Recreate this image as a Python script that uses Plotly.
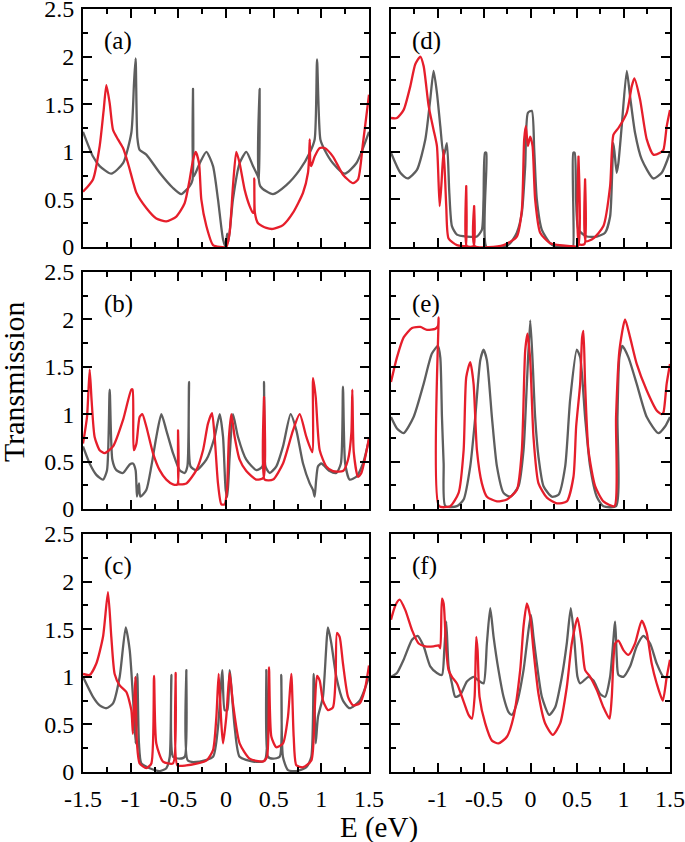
import plotly.graph_objects as go

# ---------------- data ----------------
a_gray_E = [-1.5,-1.395,-1.325,-1.203,-1.08,-0.993,-0.965,-0.948,-0.93,-0.906,-0.836,-0.696,-0.556,-0.469,-0.381,-0.352,-0.346,-0.34,-0.276,-0.206,-0.136,-0.084,-0.031,-0.003,0.012,0.025,0.073,0.143,0.213,0.283,0.336,0.347,0.353,0.359,0.493,0.633,0.773,0.878,0.93,0.955,0.99,1.035,1.122,1.245,1.367,1.5]
a_gray_T = [1.21,0.95,0.85,0.77,0.88,1.2,1.72,1.98,1.15,1.02,0.97,0.78,0.62,0.556,0.64,0.7,1.66,0.74,0.88,1.0,0.85,0.5,0.08,0.0,0.14,0.05,0.5,0.88,1.0,0.85,0.74,0.7,1.66,0.64,0.556,0.65,0.81,0.99,1.13,1.97,1.13,1.02,0.88,0.77,0.88,1.21]
a_red_E = [-1.5,-1.395,-1.325,-1.283,-1.255,-1.22,-1.185,-1.133,-1.08,-1.028,-0.976,-0.94,-0.836,-0.731,-0.626,-0.521,-0.434,-0.381,-0.345,-0.318,-0.283,-0.259,-0.206,-0.136,-0.066,0.003,0.038,0.073,0.108,0.143,0.196,0.248,0.283,0.292,0.297,0.303,0.336,0.423,0.493,0.598,0.703,0.808,0.86,0.872,0.878,0.885,0.895,0.93,0.983,1.035,1.122,1.227,1.332,1.385,1.437,1.5]
a_red_T = [0.58,0.71,1.06,1.44,1.70,1.51,1.23,1.13,1.04,0.88,0.69,0.57,0.41,0.30,0.27,0.32,0.46,0.71,0.92,1.0,0.88,0.50,0.22,0.02,0.0,0.0,0.15,0.64,1.0,0.88,0.60,0.43,0.36,0.36,0.72,0.36,0.25,0.20,0.19,0.23,0.36,0.57,0.78,0.95,1.13,0.88,0.85,0.95,1.04,1.04,0.95,0.76,0.67,0.71,1.09,1.6]

b_gray_E = [-1.5,-1.43,-1.36,-1.29,-1.248,-1.22,-1.192,-1.15,-1.08,-1.01,-0.976,-0.948,-0.934,-0.913,-0.899,-0.836,-0.783,-0.731,-0.678,-0.626,-0.556,-0.486,-0.434,-0.405,-0.388,-0.372,-0.311,-0.206,-0.119,-0.066,-0.031,-0.003,0.014,0.038,0.073,0.126,0.213,0.318,0.383,0.399,0.414,0.458,0.528,0.598,0.678,0.738,0.808,0.878,0.913,0.93,0.945,0.965,1.0,1.087,1.157,1.205,1.227,1.25,1.297,1.367,1.437,1.5]
b_gray_T = [0.66,0.48,0.36,0.31,0.41,1.26,0.52,0.41,0.38,0.47,0.48,0.41,0.13,0.27,0.13,0.20,0.45,0.76,1.0,0.83,0.59,0.41,0.38,0.45,1.34,0.45,0.41,0.52,0.76,1.0,0.76,0.2,0.13,0.55,1.0,0.76,0.52,0.41,0.45,1.34,0.45,0.38,0.45,0.66,1.0,0.83,0.48,0.27,0.2,0.13,0.3,0.45,0.48,0.40,0.38,0.48,1.29,0.48,0.31,0.34,0.48,0.73]
b_red_E = [-1.5,-1.458,-1.43,-1.41,-1.378,-1.325,-1.273,-1.185,-1.08,-0.993,-0.98,-0.968,-0.94,-0.906,-0.878,-0.836,-0.766,-0.696,-0.626,-0.556,-0.51,-0.503,-0.496,-0.486,-0.416,-0.311,-0.241,-0.189,-0.147,-0.119,-0.084,-0.049,-0.014,0.01,0.031,0.056,0.091,0.143,0.213,0.318,0.392,0.399,0.406,0.493,0.598,0.703,0.773,0.843,0.905,0.913,0.941,0.983,1.052,1.122,1.227,1.28,1.315,1.325,1.34,1.385,1.42,1.5]
b_red_T = [0.69,0.97,1.47,1.15,0.76,0.62,0.59,0.66,0.94,1.26,1.26,0.62,0.69,0.97,1.0,0.87,0.59,0.41,0.31,0.26,0.26,0.83,0.26,0.26,0.27,0.41,0.62,0.9,1.01,0.76,0.27,0.05,0.05,0.2,0.76,1.0,0.76,0.52,0.40,0.31,0.33,1.18,0.31,0.31,0.48,0.83,1.0,0.76,0.6,1.38,1.18,0.62,0.45,0.40,0.40,0.52,0.8,1.26,0.6,0.34,0.38,0.75]

c_gray_E = [-1.5,-1.395,-1.325,-1.255,-1.185,-1.115,-1.052,-1.01,-0.976,-0.948,-0.93,-0.913,-0.888,-0.8,-0.696,-0.626,-0.59,-0.573,-0.556,-0.486,-0.433,-0.416,-0.4,-0.276,-0.136,-0.084,-0.038,-0.014,0.014,0.038,0.091,0.143,0.283,0.406,0.423,0.44,0.493,0.563,0.58,0.597,0.65,0.738,0.843,0.895,0.92,0.941,0.965,1.017,1.07,1.105,1.157,1.227,1.297,1.402,1.5]
c_gray_T = [1.0,0.79,0.70,0.67,0.72,1.0,1.52,1.28,0.79,0.30,1.03,0.30,0.09,0.04,0.01,0.04,0.16,1.02,0.16,0.14,0.16,1.07,0.12,0.11,0.16,0.47,1.07,0.65,0.65,1.07,0.47,0.16,0.11,0.12,1.07,0.16,0.14,0.16,1.02,0.16,0.02,0.01,0.05,0.16,1.03,0.30,0.58,0.79,1.52,1.35,1.0,0.75,0.67,0.75,1.0]
c_red_E = [-1.5,-1.43,-1.36,-1.29,-1.238,-1.203,-1.168,-1.115,-1.045,-0.993,-0.976,-0.951,-0.934,-0.906,-0.836,-0.783,-0.755,-0.731,-0.661,-0.556,-0.528,-0.51,-0.416,-0.206,-0.136,-0.101,-0.077,-0.049,-0.031,0.003,0.038,0.073,0.143,0.248,0.388,0.43,0.451,0.476,0.528,0.598,0.65,0.685,0.71,0.738,0.808,0.895,0.93,0.955,0.983,1.017,1.07,1.122,1.15,1.164,1.192,1.227,1.28,1.332,1.402,1.455,1.5]
c_red_T = [1.03,1.02,1.14,1.42,1.89,1.42,1.03,0.91,0.84,0.65,0.40,1.0,0.30,0.09,0.04,0.09,1.01,0.30,0.11,0.09,1.04,0.07,0.07,0.12,0.23,0.58,1.03,0.51,0.30,0.58,1.04,0.72,0.30,0.14,0.11,0.16,1.10,0.37,0.26,0.30,0.58,1.03,0.37,0.07,0.05,0.12,0.65,1.01,0.96,0.75,0.65,0.68,1.0,1.46,1.42,1.14,0.79,0.70,0.72,0.86,1.12]

d_gray_E = [-1.5,-1.4,-1.321,-1.221,-1.131,-1.078,-1.042,-1.006,-0.97,-0.934,-0.899,-0.873,-0.845,-0.791,-0.684,-0.576,-0.523,-0.505,-0.49,-0.475,-0.473,-0.29,-0.218,-0.147,-0.093,-0.057,-0.028,0.014,0.04,0.068,0.122,0.211,0.283,0.444,0.458,0.46,0.475,0.49,0.516,0.605,0.713,0.802,0.856,0.892,0.927,0.945,0.981,1.035,1.071,1.124,1.196,1.321,1.411,1.5]
d_gray_T = [0.99,0.78,0.72,0.81,1.13,1.55,1.85,1.62,1.27,0.95,1.09,0.57,0.22,0.13,0.11,0.11,0.18,0.5,0.99,0.99,0.0,0.0,0.04,0.15,0.36,0.85,1.41,1.43,1.02,0.5,0.18,0.04,0.0,0.0,0.0,0.99,0.99,0.5,0.18,0.11,0.11,0.15,0.32,1.09,0.78,0.88,1.27,1.85,1.58,1.2,0.92,0.72,0.78,0.99]
d_red_E = [-1.5,-1.436,-1.364,-1.292,-1.239,-1.185,-1.149,-1.095,-1.042,-1.006,-0.977,-0.959,-0.934,-0.906,-0.881,-0.791,-0.72,-0.697,-0.691,-0.685,-0.612,-0.606,-0.6,-0.29,-0.147,-0.093,-0.068,-0.05,-0.028,-0.003,0.022,0.05,0.104,0.211,0.426,0.51,0.516,0.522,0.58,0.587,0.594,0.677,0.784,0.856,0.892,0.945,1.035,1.089,1.117,1.178,1.25,1.321,1.393,1.429,1.465,1.5]
d_red_T = [1.355,1.355,1.44,1.69,1.92,2.0,1.9,1.48,1.23,1.06,0.43,0.64,1.02,0.43,0.09,0.02,0.01,0.01,0.64,0.01,0.01,0.43,0.01,0.02,0.11,0.39,1.13,1.27,1.06,1.16,1.06,0.5,0.15,0.04,0.01,0.01,0.95,0.03,0.03,0.71,0.06,0.09,0.22,0.64,1.18,1.25,1.41,1.69,1.77,1.55,1.13,0.97,0.99,1.02,1.27,1.44]

e_gray_E = [-1.5,-1.436,-1.364,-1.257,-1.149,-1.06,-0.995,-0.97,-0.952,-0.934,-0.916,-0.791,-0.719,-0.648,-0.594,-0.54,-0.505,-0.469,-0.415,-0.361,-0.29,-0.218,-0.129,-0.075,-0.039,-0.003,0.022,0.05,0.086,0.14,0.229,0.301,0.373,0.426,0.498,0.534,0.587,0.641,0.713,0.784,0.92,0.935,0.956,0.988,1.053,1.142,1.25,1.375,1.447,1.5]
e_gray_T = [0.97,0.85,0.80,0.97,1.32,1.64,1.72,1.6,0.97,0.48,0.03,0.03,0.10,0.45,0.97,1.57,1.68,1.57,0.97,0.45,0.17,0.13,0.24,0.62,1.32,1.99,1.57,0.97,0.55,0.24,0.13,0.15,0.45,1.15,1.68,1.6,0.97,0.45,0.13,0.03,0.03,0.97,1.6,1.72,1.6,1.32,0.97,0.80,0.87,0.97]
e_red_E = [-1.5,-1.436,-1.364,-1.274,-1.185,-1.113,-1.024,-0.995,-0.988,-0.984,-0.863,-0.773,-0.719,-0.691,-0.648,-0.612,-0.576,-0.523,-0.469,-0.361,-0.254,-0.147,-0.093,-0.057,-0.032,-0.003,0.032,0.086,0.176,0.283,0.39,0.462,0.491,0.534,0.555,0.569,0.587,0.623,0.695,0.784,0.902,0.92,0.956,1.017,1.071,1.142,1.25,1.357,1.411,1.43,1.464,1.5]
e_red_T = [1.34,1.6,1.81,1.91,1.92,1.89,1.90,1.93,2.02,0.03,0.03,0.17,0.62,1.39,1.55,1.32,0.62,0.27,0.13,0.08,0.10,0.20,0.62,1.67,1.85,1.57,0.76,0.27,0.12,0.06,0.08,0.34,0.87,1.32,1.81,1.88,1.32,0.62,0.24,0.08,0.03,0.97,1.67,2.0,1.81,1.53,1.25,1.04,1.0,1.02,1.32,1.53]

f_gray_E = [-1.5,-1.436,-1.364,-1.274,-1.214,-1.149,-1.078,-1.006,-0.952,-0.927,-0.906,-0.881,-0.845,-0.809,-0.755,-0.684,-0.612,-0.558,-0.505,-0.469,-0.433,-0.397,-0.344,-0.29,-0.236,-0.2,-0.147,-0.075,-0.039,0.004,0.032,0.068,0.122,0.201,0.265,0.337,0.39,0.433,0.469,0.505,0.534,0.623,0.677,0.749,0.802,0.856,0.91,0.927,0.945,0.999,1.071,1.142,1.214,1.286,1.357,1.429,1.5]
f_gray_T = [1.0,1.04,1.18,1.39,1.43,1.32,1.11,1.04,1.02,1.28,1.58,1.11,0.93,0.79,0.81,0.95,1.0,0.96,0.93,1.35,1.72,1.42,1.07,0.79,0.63,0.60,0.72,1.07,1.35,1.65,1.42,1.14,0.79,0.60,0.68,1.0,1.35,1.72,1.42,1.0,0.93,1.0,0.96,0.82,0.79,1.0,1.58,1.21,1.02,1.0,1.11,1.32,1.43,1.35,1.14,1.0,1.0]
f_red_E = [-1.5,-1.453,-1.407,-1.346,-1.274,-1.203,-1.131,-1.042,-0.988,-0.97,-0.952,-0.934,-0.906,-0.881,-0.845,-0.791,-0.719,-0.666,-0.63,-0.601,-0.583,-0.569,-0.548,-0.487,-0.415,-0.344,-0.254,-0.182,-0.111,-0.075,-0.039,-0.003,0.032,0.086,0.158,0.24,0.319,0.39,0.444,0.505,0.552,0.587,0.641,0.713,0.784,0.849,0.874,0.91,0.945,0.999,1.053,1.124,1.196,1.25,1.303,1.357,1.422,1.465,1.5]
f_red_T = [1.6,1.75,1.81,1.70,1.49,1.35,1.32,1.32,1.33,1.30,1.82,1.77,1.28,1.07,1.0,0.93,0.74,0.60,0.56,0.79,1.42,1.28,0.79,0.51,0.33,0.30,0.37,0.58,1.07,1.53,1.77,1.63,1.28,0.82,0.51,0.39,0.51,0.89,1.35,1.62,1.35,1.07,1.0,0.86,0.68,0.56,0.79,1.35,1.38,1.28,1.23,1.35,1.59,1.46,1.14,0.93,0.75,1.0,1.18]

panel_labels = ["(a)", "(b)", "(c)", "(d)", "(e)", "(f)"]
x_tick_vals = [-1.5, -1, -0.5, 0, 0.5, 1, 1.5]
x_tick_text = ["-1.5", "-1", "-0.5", "0", "0.5", "1", "1.5"]
x_tick_text_right = ["", "-1", "-0.5", "0", "0.5", "1", "1.5"]
y_tick_vals = [0, 0.5, 1, 1.5, 2, 2.5]
y_tick_text = ["0", "0.5", "1", "1.5", "2", "2.5"]

GRAY = "#5e5e5e"
RED = "#e61e2b"
FONT = "Liberation Serif, Times New Roman, DejaVu Serif, serif"
W, H = 685, 842

panels = [
    (a_gray_E, a_gray_T, a_red_E, a_red_T),
    (b_gray_E, b_gray_T, b_red_E, b_red_T),
    (c_gray_E, c_gray_T, c_red_E, c_red_T),
    (d_gray_E, d_gray_T, d_red_E, d_red_T),
    (e_gray_E, e_gray_T, e_red_E, e_red_T),
    (f_gray_E, f_gray_T, f_red_E, f_red_T),
]

# pixel frames (left, right) and (top, bottom)
cols = [(83, 369), (391, 670)]
rows = [(9, 247), (272, 509), (534, 772)]

fig = go.Figure()
layout = {}
annotations = []
for i, (gE, gT, rE, rT) in enumerate(panels):
    col = i // 3
    row = i % 3
    n = "" if i == 0 else str(i + 1)
    xa = "x" + n
    ya = "y" + n
    fig.add_trace(go.Scatter(x=gE, y=gT, mode="lines",
                             line=dict(color=GRAY, width=2.3, shape="spline", smoothing=0.6),
                             xaxis=xa, yaxis=ya, showlegend=False))
    fig.add_trace(go.Scatter(x=rE, y=rT, mode="lines",
                             line=dict(color=RED, width=2.3, shape="spline", smoothing=0.6),
                             xaxis=xa, yaxis=ya, showlegend=False))
    l, r = cols[col]
    t, b = rows[row]
    common = dict(showline=True, linewidth=2, linecolor="black", mirror="ticks",
                  ticks="inside", ticklen=9, tickwidth=2, tickcolor="black",
                  showgrid=False, zeroline=False, fixedrange=True, automargin=False,
                  ticklabeloverflow="allow",
                  tickfont=dict(family=FONT, size=24, color="black"))
    xaxis = dict(common, domain=[l / W, r / W], range=[-1.5, 1.5], anchor=ya,
                 tickmode="array", tickvals=x_tick_vals,
                 ticktext=(x_tick_text if col == 0 else x_tick_text_right),
                 showticklabels=(row == 2), ticklabelstandoff=4,
                 minor=dict(ticks="inside", ticklen=5, tickwidth=2, tickcolor="black",
                            tickmode="linear", tick0=0, dtick=0.25))
    yaxis = dict(common, domain=[1 - b / H, 1 - t / H], range=[0, 2.5], anchor=xa,
                 tickmode="array", tickvals=y_tick_vals, ticktext=y_tick_text,
                 showticklabels=(col == 0), ticklabelstandoff=2,
                 minor=dict(ticks="inside", ticklen=5, tickwidth=2, tickcolor="black",
                            tickmode="linear", tick0=0, dtick=0.25))
    layout["xaxis" + n] = xaxis
    layout["yaxis" + n] = yaxis
    annotations.append(dict(text=panel_labels[i], x=-1.3, y=2.16, xref=xa, yref=ya,
                            xanchor="left", yanchor="middle", showarrow=False,
                            font=dict(family=FONT, size=25, color="black")))

annotations.append(dict(text="Transmission", x=14 / W, y=1 - 382 / H, xref="paper", yref="paper",
                        xanchor="center", yanchor="middle", textangle=-90, showarrow=False,
                        font=dict(family=FONT, size=30, color="black")))
annotations.append(dict(text="E (eV)", x=379 / W, y=1 - 827 / H, xref="paper", yref="paper",
                        xanchor="center", yanchor="middle", showarrow=False,
                        font=dict(family=FONT, size=29, color="black")))

fig.update_layout(**layout)
fig.update_layout(width=W, height=H, margin=dict(l=0, r=0, t=0, b=0, autoexpand=False),
                  paper_bgcolor="white", plot_bgcolor="white",
                  annotations=annotations, showlegend=False)
fig.write_html("out.html", config={"displayModeBar": False, "staticPlot": True},
               post_script="document.body.style.margin='0';document.body.style.padding='0';"
                           "document.body.style.overflow='hidden';")
